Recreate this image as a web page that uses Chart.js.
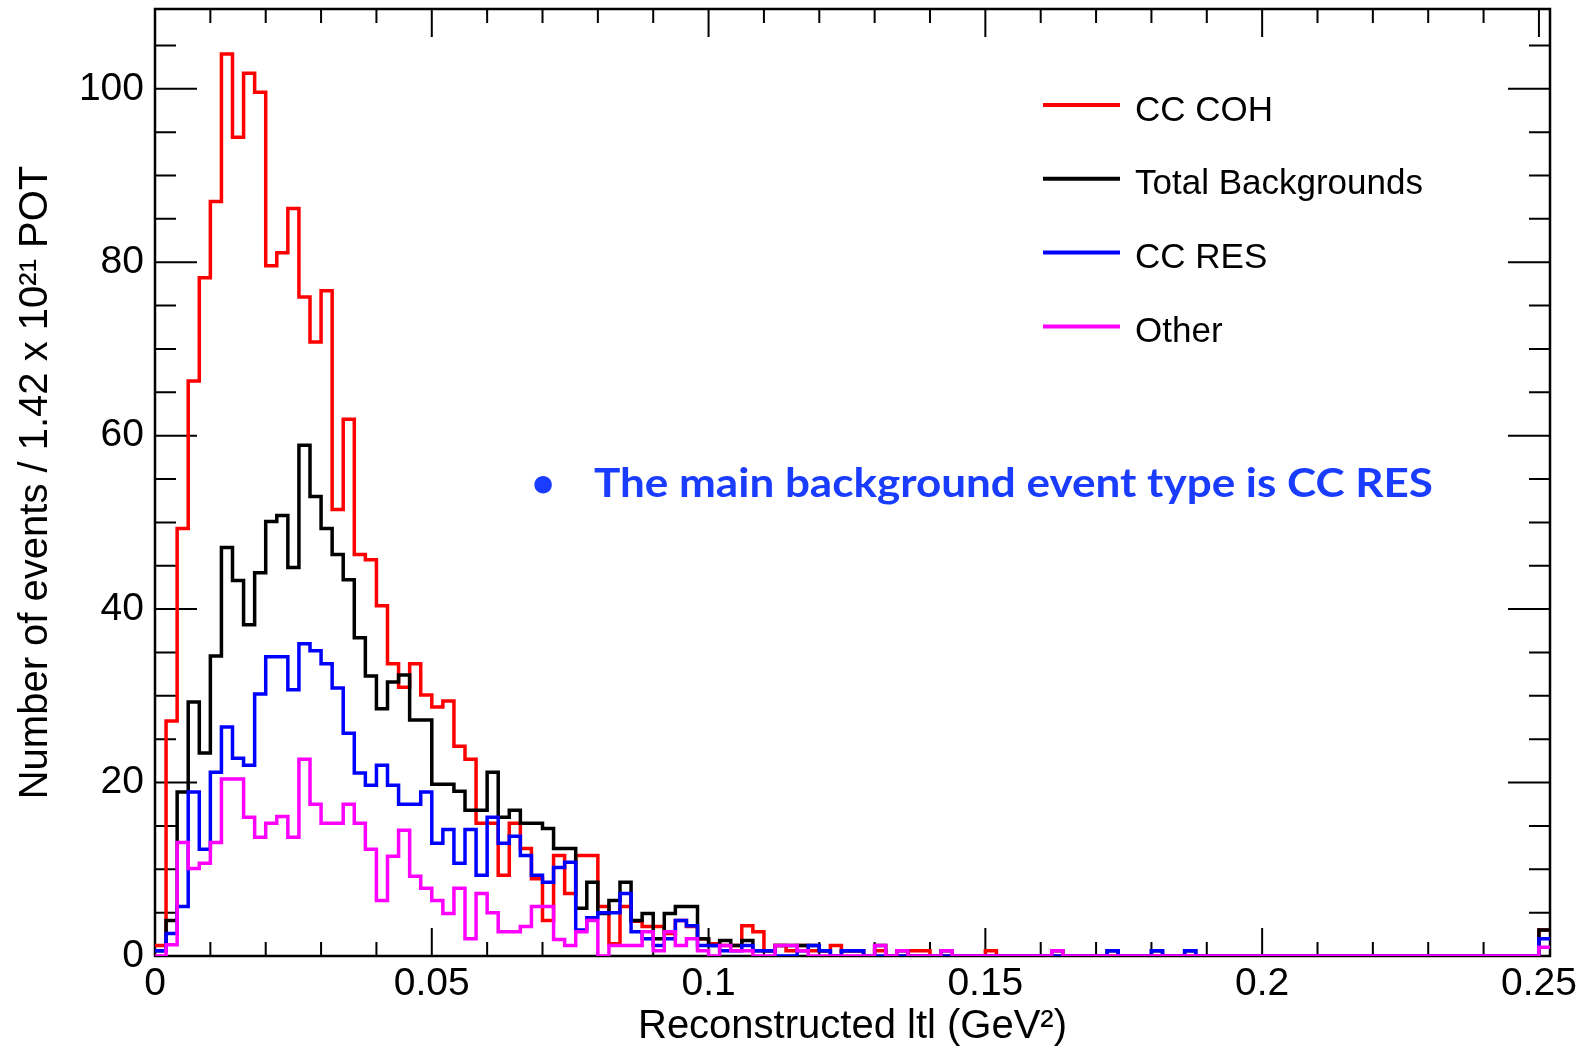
<!DOCTYPE html>
<html>
<head>
<meta charset="utf-8">
<script src="https://cdn.jsdelivr.net/npm/chart.js@4.4.1/dist/chart.umd.min.js"></script>
<style>
  html, body { margin: 0; padding: 0; background: #fff; }
  canvas { display: block; }
</style>
</head>
<body>
<canvas id="tChart" width="1580" height="1047"></canvas>
<script>
// reconstructed |t| histogram, 0.002 GeV^2 bins from 0 to 0.252
const binWidth = 0.002;

const cohVals = [
    1.2, 27.1, 49.3, 66.3, 78.2, 87.0, 104.0, 94.4, 101.8, 99.6,
    79.6, 81.1, 86.2, 76.0, 70.8, 76.7, 51.5, 61.9, 46.3, 45.7,
    40.4, 33.7, 31.0, 33.7, 30.1, 28.7, 29.4, 24.2, 22.7, 15.3,
    15.3, 9.3, 15.3, 12.4, 8.9, 4.1, 11.6, 7.2, 11.6, 11.6,
    5.7, 1.4, 5.7, 4.0, 3.4, 3.4, 2.6, 4.1, 3.4, 2.0,
    1.4, 1.2, 1.2, 3.5, 2.8, 0.6, 1.2, 0.6, 1.2, 0.6,
    0.6, 1.2, 0.6, 0.6, 0, 0.6, 0, 0, 0.6, 0.6,
    0, 0, 0, 0, 0, 0.6, 0, 0, 0, 0,
    0, 0, 0, 0, 0, 0, 0, 0, 0, 0,
    0, 0, 0, 0, 0, 0, 0, 0, 0, 0,
    0, 0, 0, 0, 0, 0, 0, 0, 0, 0,
    0, 0, 0, 0, 0, 0, 0, 0, 0, 0,
    0, 0, 0, 0, 0, 3.0
];
const bkgVals = [
    0.6, 4.1, 18.9, 29.3, 23.4, 34.6, 47.1, 43.3, 38.2, 44.2,
    50.1, 50.8, 44.8, 58.9, 53.0, 49.3, 46.3, 43.4, 36.7, 32.3,
    28.5, 31.6, 32.4, 27.2, 27.2, 19.8, 19.8, 19.0, 16.8, 16.8,
    21.2, 16.0, 16.8, 15.3, 15.3, 14.7, 12.4, 12.4, 5.5, 8.5,
    4.9, 6.4, 8.5, 4.1, 4.9, 2.0, 4.9, 5.7, 5.7, 2.0,
    1.2, 1.8, 1.2, 1.8, 0.6, 0.6, 1.2, 1.2, 1.2, 1.2,
    0.6, 0, 0.6, 0.6, 0, 1.2, 0, 0.6, 0, 0,
    0, 0.6, 0, 0, 0, 0, 0, 0, 0, 0,
    0, 0.6, 0, 0, 0, 0, 0.6, 0, 0, 0,
    0.6, 0, 0, 0.6, 0, 0, 0, 0, 0, 0,
    0, 0, 0, 0, 0, 0, 0, 0, 0, 0,
    0, 0, 0, 0, 0, 0, 0, 0, 0, 0,
    0, 0, 0, 0, 0, 3.0
];
const resVals = [
    0.6, 2.6, 5.7, 18.9, 12.3, 21.2, 26.4, 22.8, 22.0, 30.2,
    34.5, 34.5, 30.7, 36.0, 35.2, 33.7, 30.9, 25.7, 21.1, 19.7,
    22.0, 19.7, 17.5, 17.5, 18.9, 13.0, 14.6, 10.7, 14.6, 9.3,
    16.0, 13.0, 13.8, 11.6, 9.3, 8.5, 10.2, 10.8, 3.0, 4.4,
    5.0, 5.0, 7.2, 2.8, 2.0, 1.2, 2.0, 4.1, 3.5, 1.2,
    1.2, 0.6, 0.6, 1.2, 0.6, 0.6, 0, 0, 0.6, 1.2,
    0.6, 0, 0.6, 0.6, 0, 0, 0, 0, 0, 0,
    0, 0, 0, 0, 0, 0, 0, 0, 0, 0,
    0, 0, 0, 0, 0, 0, 0.6, 0, 0, 0,
    0.6, 0, 0, 0.6, 0, 0, 0, 0, 0, 0,
    0, 0, 0, 0, 0, 0, 0, 0, 0, 0,
    0, 0, 0, 0, 0, 0, 0, 0, 0, 0,
    0, 0, 0, 0, 0, 2.0
];
const otherVals = [
    0, 1.3, 13.1, 10.1, 10.7, 13.1, 20.4, 20.4, 16.0, 13.7,
    15.3, 16.1, 13.7, 22.7, 17.5, 15.3, 15.3, 17.5, 15.3, 12.3,
    6.4, 11.5, 14.5, 9.2, 7.8, 6.4, 4.9, 7.8, 2.0, 7.2,
    5.0, 2.8, 2.8, 3.4, 5.7, 5.7, 1.9, 1.2, 2.8, 4.1,
    0, 1.2, 1.2, 1.2, 2.8, 0.6, 2.8, 1.2, 2.0, 0.6,
    0, 1.2, 0.6, 0.6, 0, 0, 1.2, 1.2, 0.6, 0,
    0, 0, 0, 0, 0, 1.2, 0, 0.6, 0, 0,
    0, 0.6, 0, 0, 0, 0, 0, 0, 0, 0,
    0, 0.6, 0, 0, 0, 0, 0, 0, 0, 0,
    0, 0, 0, 0, 0, 0, 0, 0, 0, 0,
    0, 0, 0, 0, 0, 0, 0, 0, 0, 0,
    0, 0, 0, 0, 0, 0, 0, 0, 0, 0,
    0, 0, 0, 0, 0, 1.0
];

const seriesLabels = ['CC COH', 'Total Backgrounds', 'CC RES', 'Other'];
const seriesColors = ['#ff0000', '#000000', '#0000ff', '#ff00ff'];

const xTicks = [0, 0.05, 0.1, 0.15, 0.2, 0.25];
const xMinorTicks = [0.01, 0.02, 0.03, 0.04, 0.06, 0.07, 0.08, 0.09, 0.11, 0.12, 0.13, 0.14,
    0.16, 0.17, 0.18, 0.19, 0.21, 0.22, 0.23, 0.24];
const yTicks = [0, 20, 40, 60, 80, 100];
const yMinorTicks = [5, 10, 15, 25, 30, 35, 45, 50, 55, 65, 70, 75, 85, 90, 95, 105];

const noteText = 'The main background event type is CC RES';

const axisFont = '"Liberation Sans", Arial, Helvetica, sans-serif';

// bin left edges plus the closing edge so the last bin gets drawn
function histPoints(vals) {
    let pts = vals.map(function(v, i) { return {x: i * binWidth, y: v}; });
    pts.push({x: vals.length * binWidth, y: vals[vals.length - 1]});
    return pts;
}

// ROOT style frame with inward ticks on all four sides
const frameTicks = {
    id: 'frameTicks',
    beforeDatasetsDraw(chart) {
        const ctx = chart.ctx;
        const a = chart.chartArea;
        const x = chart.scales.x;
        const y = chart.scales.y;
        ctx.save();
        ctx.strokeStyle = '#000';
        ctx.lineWidth = 2;
        ctx.beginPath();
        function xTick(v, len) {
            let px = x.getPixelForValue(v);
            ctx.moveTo(px, a.bottom); ctx.lineTo(px, a.bottom - len);
            ctx.moveTo(px, a.top); ctx.lineTo(px, a.top + len);
        }
        function yTick(v, len) {
            let py = y.getPixelForValue(v);
            ctx.moveTo(a.left, py); ctx.lineTo(a.left + len, py);
            ctx.moveTo(a.right, py); ctx.lineTo(a.right - len, py);
        }
        xTicks.forEach(function(v) { xTick(v, 28); });
        xMinorTicks.forEach(function(v) { xTick(v, 14); });
        yTicks.forEach(function(v) { yTick(v, 42); });
        yMinorTicks.forEach(function(v) { yTick(v, 21); });
        ctx.stroke();
        ctx.lineWidth = 2.5;
        ctx.strokeRect(a.left, a.top, a.right - a.left, a.bottom - a.top);
        ctx.restore();
    }
};

const legendBox = {
    id: 'legendBox',
    afterDraw(chart) {
        const ctx = chart.ctx;
        ctx.save();
        chart.data.datasets.forEach(function(ds, i) {
            let ly = 105 + i * 73.8;
            ctx.strokeStyle = ds.borderColor;
            ctx.lineWidth = 4;
            ctx.beginPath();
            ctx.moveTo(1043, ly);
            ctx.lineTo(1120, ly);
            ctx.stroke();
            ctx.fillStyle = '#000';
            ctx.font = '35px ' + axisFont;
            ctx.textBaseline = 'alphabetic';
            ctx.textAlign = 'left';
            ctx.fillText(ds.label, 1135, ly + 15.5);
        });

        // blue bullet note
        ctx.fillStyle = '#1a3cff';
        ctx.font = 'bold 40px Lato, "Open Sans", sans-serif';
        ctx.textBaseline = 'alphabetic';
        ctx.textAlign = 'center';
        ctx.fillText('\u2022', 543, 497);
        ctx.textAlign = 'left';
        let w = ctx.measureText(noteText).width;
        ctx.translate(594, 497);
        ctx.scale(839 / w, 1);
        ctx.fillText(noteText, 0, 0);
        ctx.restore();
    }
};

const datasets = [cohVals, bkgVals, resVals, otherVals].map(function(vals, i) {
    return {
        label: seriesLabels[i],
        data: histPoints(vals),
        borderColor: seriesColors[i],
        backgroundColor: seriesColors[i],
        borderWidth: 3.5,
        stepped: true,
        pointRadius: 0,
        fill: false,
        order: 4 - i,
        borderJoinStyle: 'miter'
    };
});

new Chart(document.getElementById('tChart'), {
    type: 'line',
    data: { datasets: datasets },
    options: {
        responsive: false,
        devicePixelRatio: 1,
        animation: false,
        events: [],
        layout: { padding: { top: 9, right: 30, bottom: 0, left: 0 } },
        plugins: {
            legend: { display: false },
            tooltip: { enabled: false }
        },
        scales: {
            x: {
                type: 'linear',
                min: 0,
                max: 0.252,
                afterBuildTicks: function(s) { s.ticks = xTicks.map(function(v) { return {value: v}; }); },
                afterFit: function(s) {
                    s.height = 91;
                    s.paddingLeft = 0;
                    s.paddingRight = 0;
                },
                grid: { display: false, drawTicks: false },
                border: { display: false },
                ticks: {
                    autoSkip: false,
                    maxRotation: 0,
                    padding: 9,
                    color: '#000',
                    font: { family: axisFont, size: 39, lineHeight: 1 },
                    callback: function(v) { return String(v); }
                },
                title: {
                    display: true,
                    text: 'Reconstructed ltl (GeV\u00b2)',
                    color: '#000',
                    font: { family: axisFont, size: 40, lineHeight: 1 },
                    padding: { top: 0, bottom: 0 }
                }
            },
            y: {
                type: 'linear',
                min: 0,
                max: 109.2,
                afterBuildTicks: function(s) { s.ticks = yTicks.map(function(v) { return {value: v}; }); },
                afterFit: function(s) {
                    s.width = 155;
                    s.paddingTop = 0;
                    s.paddingBottom = 0;
                },
                grid: { display: false, drawTicks: false },
                border: { display: false },
                ticks: {
                    padding: 11,
                    color: '#000',
                    font: { family: axisFont, size: 39, lineHeight: 1 }
                },
                title: {
                    display: true,
                    text: 'Number of events / 1.42 x 10\u00b2\u00b9 POT',
                    color: '#000',
                    font: { family: axisFont, size: 40, lineHeight: 1 },
                    padding: { top: 16, bottom: 0 }
                }
            }
        }
    },
    plugins: [frameTicks, legendBox]
});
</script>
</body>
</html>
